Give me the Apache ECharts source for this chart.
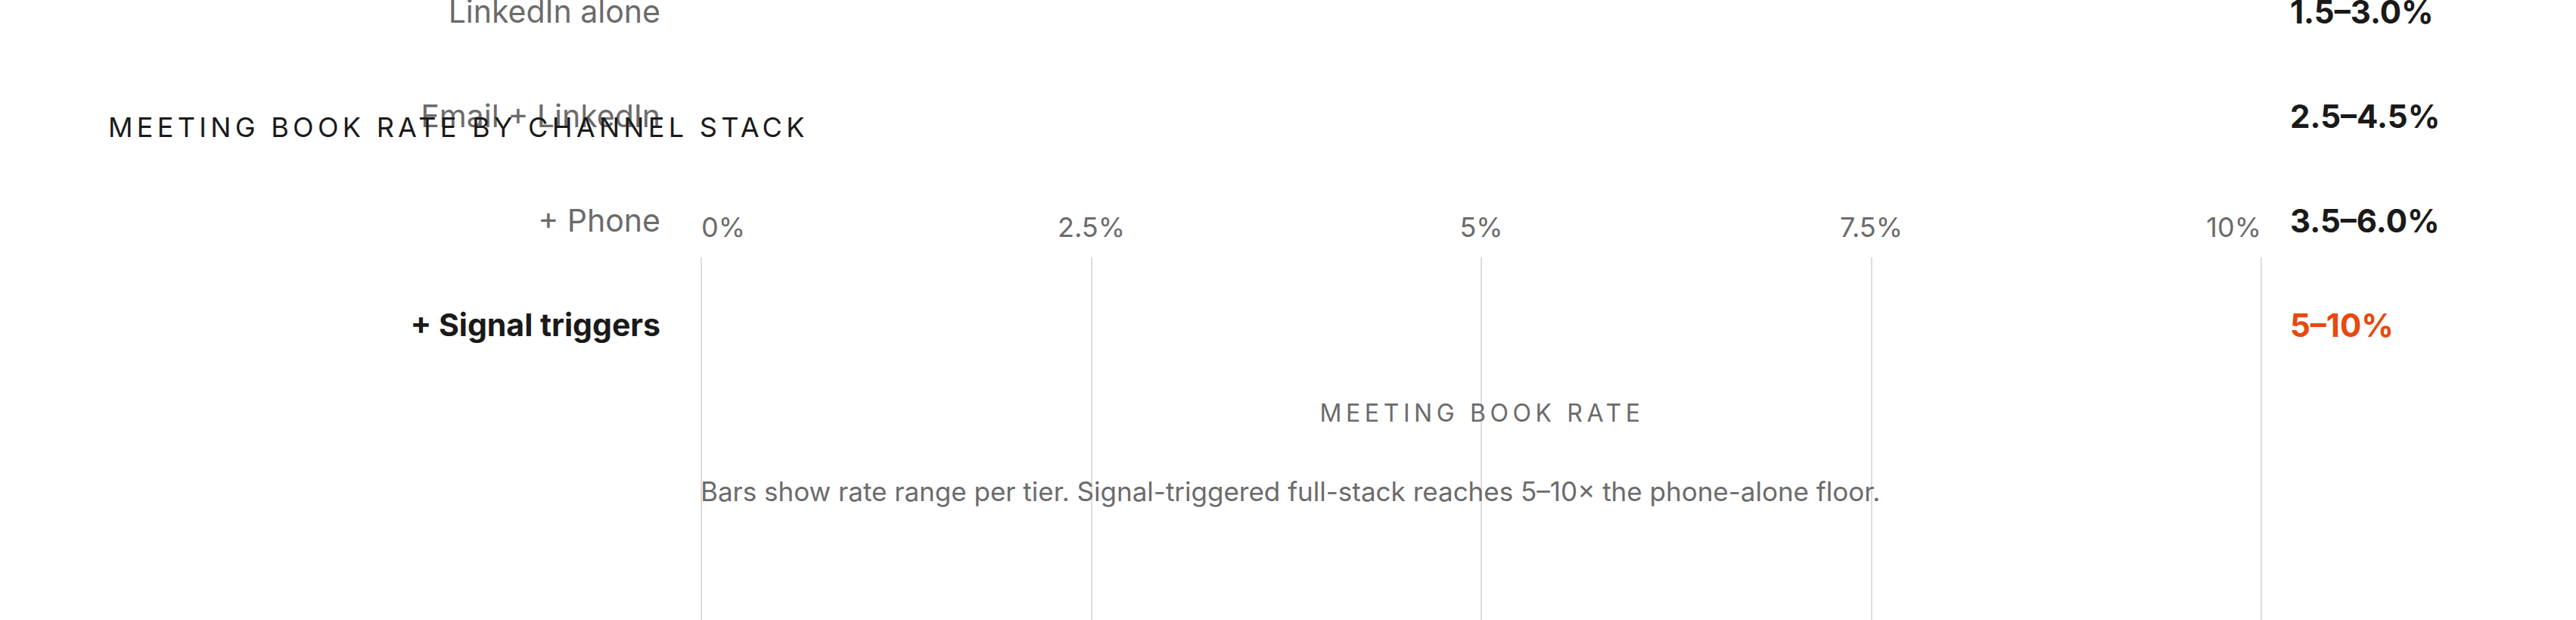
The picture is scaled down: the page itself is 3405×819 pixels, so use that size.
<!DOCTYPE html>
<html>
<head>
<meta charset="utf-8">
<script src="https://cdn.jsdelivr.net/npm/echarts@6/dist/echarts.min.js"></script>
<style>
html,body{margin:0;padding:0;background:#fff;}
#c{width:3405px;height:819px;}
</style>
</head>
<body>
<div id="c"></div>
<script>
const categories = ['LinkedIn alone', 'Email + LinkedIn', '+ Phone', '+ Signal triggers'];
const rateLow = [1.5, 2.5, 3.5, 5];
const rateHigh = [3.0, 4.5, 6.0, 10];
const rangeLabels = ['1.5–3.0%', '2.5–4.5%', '3.5–6.0%', '5–10%'];
const xTicks = [0, 2.5, 5, 7.5, 10];
const titleText = 'MEETING BOOK RATE BY CHANNEL STACK';
const axisNameText = 'MEETING BOOK RATE';
const noteText = 'Bars show rate range per tier. Signal-triggered full-stack reaches 5–10× the phone-alone floor.';

const FONT = 'Inter, "DejaVu Sans", sans-serif';
const chart = echarts.init(document.getElementById('c'), null, {renderer: 'svg'});
const last = categories.length - 1;
const GL = 927, GR = 416;
const W = 3405;

const option = {
  animation: false,
  backgroundColor: '#ffffff',
  title: [
    {text: titleText, left: 138, top: 145,
     textStyle: {fontFamily: FONT, fontSize: 36, fontWeight: 400, color: '#1a1a1a'}},
    {text: noteText, left: 921, top: 626,
     textStyle: {fontFamily: FONT, fontSize: 35, fontWeight: 400, color: '#6b6b6b'}},
    {text: axisNameText, left: (GL + (W - GR)) / 2 - 4, top: 524, textAlign: 'center',
     textStyle: {fontFamily: FONT, fontSize: 32, fontWeight: 400, color: '#6b6b6b'}}
  ],
  grid: [
    {left: GL, right: GR, top: 340, bottom: -60, outerBoundsMode: 'none', containLabel: false},
    {left: GL, right: GR, top: -54, height: 552, outerBoundsMode: 'none', containLabel: false}
  ],
  xAxis: [
    {gridIndex: 0, type: 'value', position: 'top', min: xTicks[0], max: xTicks[xTicks.length - 1], interval: 2.5,
     axisLine: {show: false}, axisTick: {show: false},
     splitLine: {show: true, lineStyle: {color: '#dcdcdc', width: 2}},
     axisLabel: {formatter: v => v + '%', margin: 22, color: '#6b6b6b', fontFamily: FONT, fontSize: 36,
                 alignMinLabel: 'left', alignMaxLabel: 'right'}},
    {gridIndex: 1, type: 'value', min: 0, max: 10, show: false}
  ],
  yAxis: [
    {gridIndex: 1, type: 'category', inverse: true, data: categories,
     axisLine: {show: false}, axisTick: {show: false}, splitLine: {show: false},
     axisLabel: {margin: 54, fontFamily: FONT,
       formatter: (v, i) => i === last ? '{b|' + v + '}' : '{n|' + v + '}',
       rich: {
         n: {fontFamily: FONT, fontSize: 41, fontWeight: 400, color: '#6b6b6b'},
         b: {fontFamily: FONT, fontSize: 41, fontWeight: 700, color: '#1a1a1a'}
       }}},
    {gridIndex: 1, type: 'category', inverse: true, position: 'right', data: rangeLabels,
     axisLine: {show: false}, axisTick: {show: false}, splitLine: {show: false},
     axisLabel: {margin: 38, fontFamily: FONT,
       formatter: (v, i) => i === last ? '{h|' + v + '}' : '{b|' + v + '}',
       rich: {
         b: {fontFamily: FONT, fontSize: 42, fontWeight: 700, color: '#1a1a1a'},
         h: {fontFamily: FONT, fontSize: 42, fontWeight: 700, color: '#e8490f'}
       }}},
    {gridIndex: 0, type: 'value', min: 0, max: 1, show: false}
  ],
  series: [
    {type: 'bar', xAxisIndex: 1, yAxisIndex: 0, stack: 'range', silent: true,
     data: rateLow, itemStyle: {color: 'rgba(0,0,0,0)'}},
    {type: 'bar', xAxisIndex: 1, yAxisIndex: 0, stack: 'range', silent: true,
     data: rateHigh.map((h, i) => +(h - rateLow[i]).toFixed(2)),
     itemStyle: {color: '#e8490f', opacity: 0}}
  ]
};
chart.setOption(option);

function spaceText() {
  document.querySelectorAll('#c text').forEach(t => {
    const s = t.textContent;
    if (s === titleText) t.setAttribute('letter-spacing', '5.3');
    if (s === axisNameText) t.setAttribute('letter-spacing', '5.6');
  });
}
chart.on('finished', spaceText);
spaceText();
setTimeout(spaceText, 50);
</script>
</body>
</html>
